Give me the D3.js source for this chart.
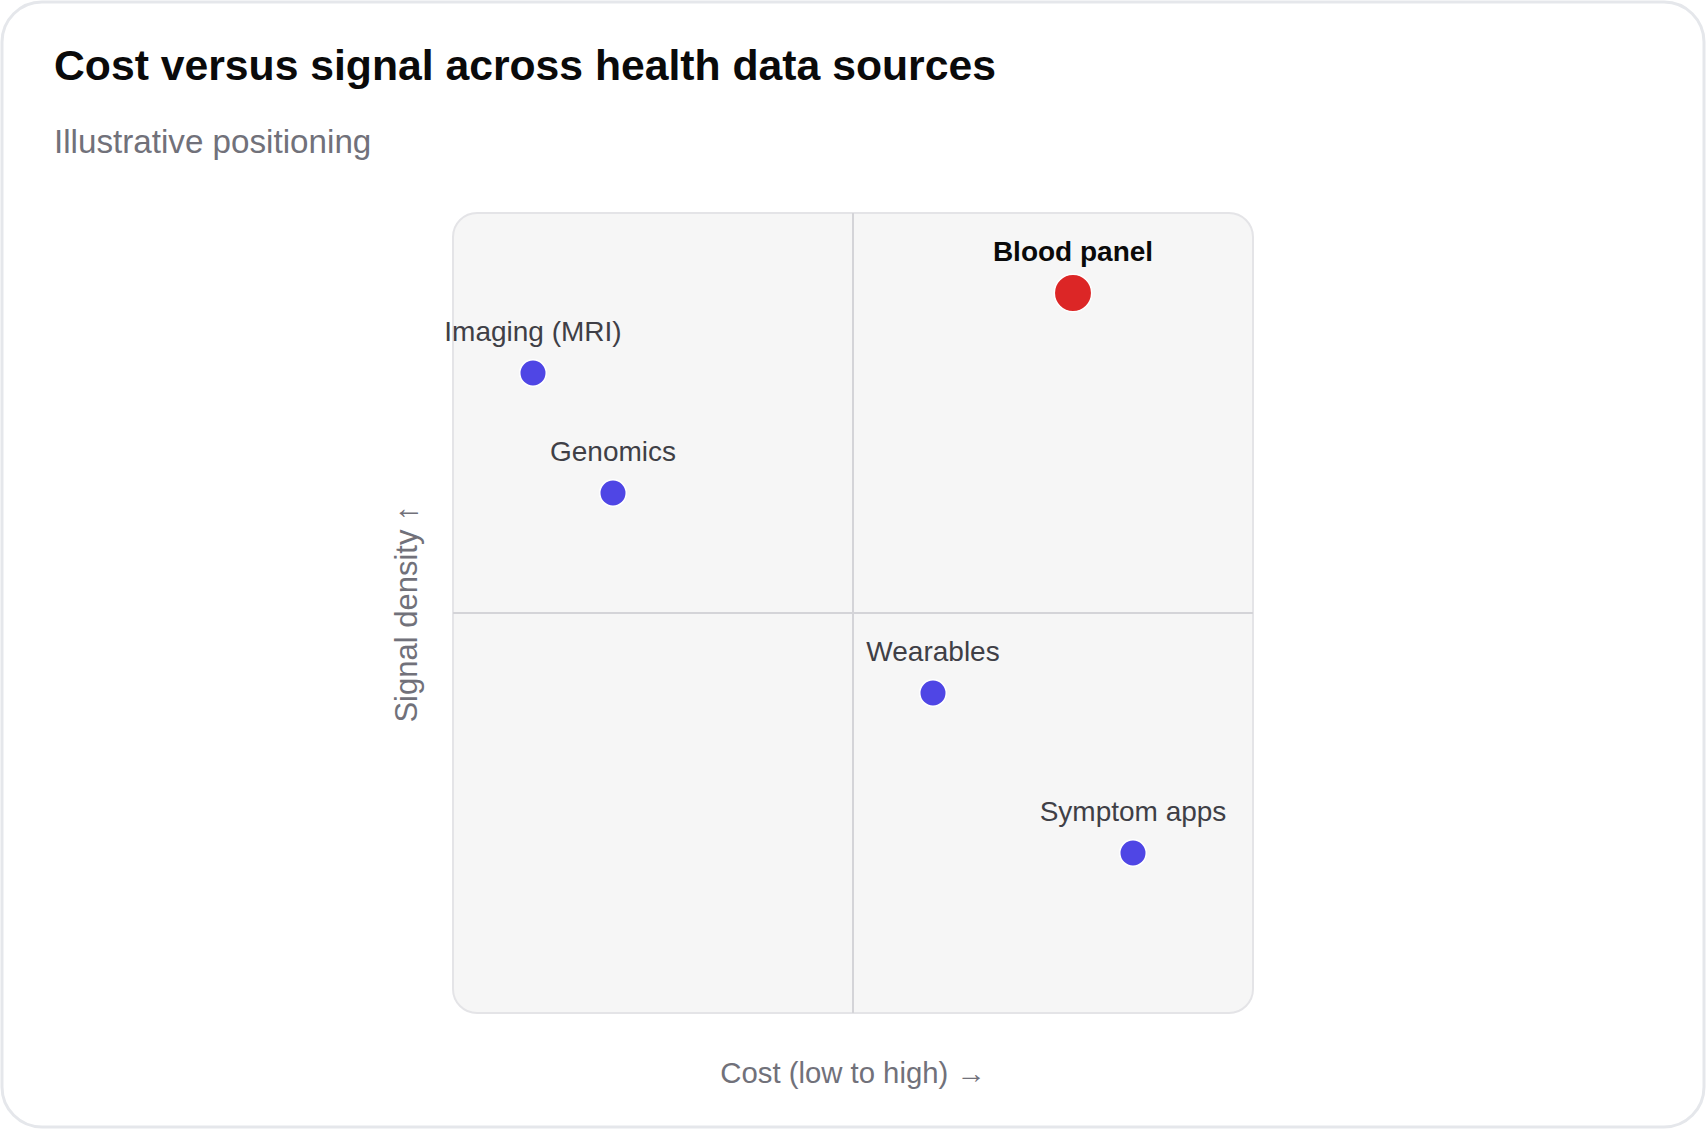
<!DOCTYPE html>
<html>
<head>
<meta charset="utf-8">
<script src="https://cdn.jsdelivr.net/npm/d3@7"></script>
<style>
  html, body { margin: 0; padding: 0; background: #ffffff; }
  svg { display: block; font-family: "Liberation Sans", Arial, Helvetica, sans-serif; }
</style>
</head>
<body>
<svg id="chart" width="1707" height="1131"></svg>
<script>
const titleText = "Cost versus signal across health data sources";
const subtitleText = "Illustrative positioning";
const xAxisTitle = "Cost (low to high) →";
const yAxisTitle = "Signal density ↑";

const sources = ["Imaging (MRI)", "Genomics", "Blood panel", "Wearables", "Symptom apps"];
const costValues = [10, 20, 77.5, 60, 85];
const signalValues = [80, 65, 90, 40, 20];
const highlighted = [false, false, true, false, false];

const data = sources.map((s, i) => ({ name: s, cost: costValues[i], signal: signalValues[i], hi: highlighted[i] }));

const svg = d3.select("#chart");

// card
svg.append("rect")
  .attr("x", 2).attr("y", 2).attr("width", 1702).attr("height", 1125)
  .attr("rx", 40).attr("ry", 40)
  .attr("fill", "#ffffff").attr("stroke", "#e5e7eb").attr("stroke-width", 3);

svg.append("text")
  .attr("x", 54).attr("y", 80)
  .attr("font-size", 42.7).attr("font-weight", 700).attr("fill", "#0a0a0a")
  .text(titleText);

svg.append("text")
  .attr("x", 54).attr("y", 153)
  .attr("font-size", 33.2).attr("fill", "#71717a")
  .text(subtitleText);

const plot = { x: 453, y: 213, w: 800, h: 800 };
const x = d3.scaleLinear().domain([0, 100]).range([plot.x, plot.x + plot.w]);
const y = d3.scaleLinear().domain([0, 100]).range([plot.y + plot.h, plot.y]);

svg.append("rect")
  .attr("x", plot.x).attr("y", plot.y).attr("width", plot.w).attr("height", plot.h)
  .attr("rx", 24).attr("ry", 24)
  .attr("fill", "#f6f6f6").attr("stroke", "#e4e4e7").attr("stroke-width", 2);

svg.append("line")
  .attr("x1", x(50)).attr("x2", x(50)).attr("y1", y(0)).attr("y2", y(100))
  .attr("stroke", "#d4d4d8").attr("stroke-width", 2);
svg.append("line")
  .attr("x1", x(0)).attr("x2", x(100)).attr("y1", y(50)).attr("y2", y(50))
  .attr("stroke", "#d4d4d8").attr("stroke-width", 2);

const g = svg.append("g").selectAll("g").data(data).join("g")
  .attr("transform", d => `translate(${x(d.cost)},${y(d.signal)})`);

g.append("circle")
  .attr("r", d => d.hi ? 18.7 : 13.25)
  .attr("fill", d => d.hi ? "#dc2626" : "#4f46e5")
  .attr("stroke", "#ffffff").attr("stroke-width", 1.5);

g.append("text")
  .attr("y", -32)
  .attr("text-anchor", "middle")
  .attr("font-size", 28)
  .attr("font-weight", d => d.hi ? 700 : 400)
  .attr("fill", d => d.hi ? "#0a0a0a" : "#3f3f46")
  .text(d => d.name);

svg.append("text")
  .attr("x", x(50)).attr("y", 1083)
  .attr("text-anchor", "middle")
  .attr("font-size", 29.3).attr("fill", "#71717a")
  .text(xAxisTitle);

svg.append("text")
  .attr("transform", `translate(417,614) rotate(-90)`)
  .attr("text-anchor", "middle")
  .attr("font-size", 31).attr("fill", "#71717a")
  .text(yAxisTitle);
</script>
</body>
</html>
